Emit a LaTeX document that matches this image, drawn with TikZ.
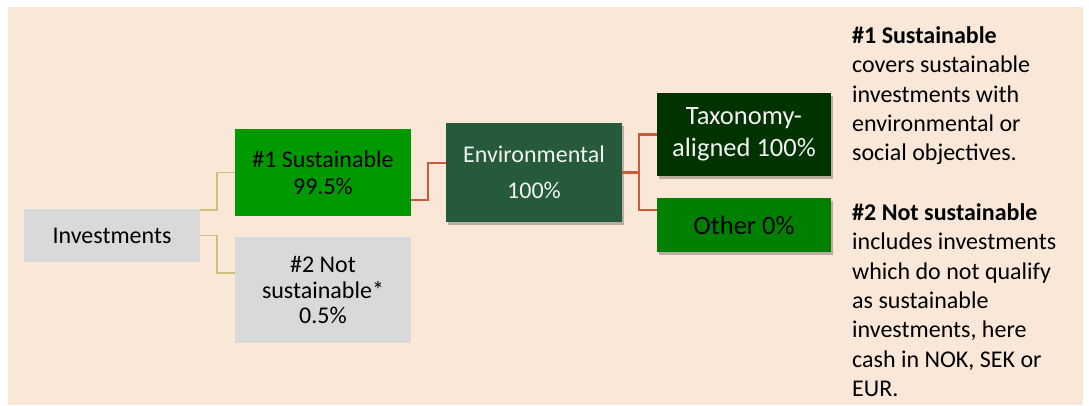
\documentclass[tikz,border=0pt]{standalone}
\usepackage{fontspec}
\setmainfont{Carlito}
\usetikzlibrary{shadows}
\definecolor{peach}{HTML}{F9E8D8}
\definecolor{boxgrey}{HTML}{D9D9D9}
\definecolor{greenA}{HTML}{009900}
\definecolor{envgreen}{HTML}{255A3B}
\definecolor{taxgreen}{HTML}{003300}
\definecolor{othgreen}{HTML}{008000}
\definecolor{tanline}{HTML}{CDBE78}
\definecolor{redline}{HTML}{CB5A3A}
\tikzset{
  box/.style={rectangle, inner sep=0pt, align=center, text=black,
    font=\fontsize{24}{27}\selectfont},
  shad/.style={drop shadow={shadow xshift=2pt, shadow yshift=-3pt, opacity=0.25, fill=black}},
  tanconn/.style={draw=tanline, line width=1.6pt},
  redconn/.style={draw=redline, line width=2.2pt},
  note/.style={inner sep=0pt, align=left, anchor=north west,
    font=\fontsize{24}{29.3}\selectfont}
}
\begin{document}
\begin{tikzpicture}[x=1pt,y=-1pt]
\useasboundingbox (0,0) rectangle (1089,405);
\fill[white] (0,0) rectangle (1089,405);
\fill[peach] (8,7) rectangle (1083,405);

\node[box, fill=boxgrey, minimum width=176pt, minimum height=53pt] (inv) at (112,235.5) {Investments};
\node[box, fill=greenA, minimum width=176pt, minimum height=87pt] (s1) at (323,172.5) {\#1 Sustainable\\99.5\%};
\node[box, fill=boxgrey, minimum width=176pt, minimum height=106pt,
  font=\fontsize{24}{25.5}\selectfont] (s2) at (323,290) {\#2 Not\\sustainable*\\0.5\%};
\node[box, shad, fill=envgreen, text=white!95!black, minimum width=176pt, minimum height=99pt,
  font=\fontsize{24}{36}\selectfont] (env) at (534,172.5) {Environmental\\100\%};
\node[box, shad, fill=taxgreen, text=white!95!black, minimum width=174pt, minimum height=83pt,
  font=\fontsize{26.5}{32}\selectfont] (tax) at (744,134.5) {Taxonomy-\\aligned 100\%};
\node[box, shad, fill=othgreen, minimum width=174pt, minimum height=54pt,
  font=\fontsize{26.5}{30}\selectfont] (oth) at (744,225) {Other 0\%};

\draw[tanconn] ([yshift=-1pt]inv.north east) -- ++(17,0) |- (s1.west);
\draw[tanconn] (inv.east) -- ++(17,0) |- ([yshift=17pt]s2.west);
\draw[redconn] ([yshift=-27.5pt]s1.east) -- ++(17,0) |- ([yshift=9.5pt]env.west);
\draw[redconn] (env.east) -- ++(17,0) coordinate (fork);
\draw[redconn] (fork) |- (tax.west);
\draw[redconn] (fork) |- ([yshift=15pt]oth.west);

\node[note] (n1) at (852,26.5) {\textbf{\#1 Sustainable}\\covers sustainable\\investments with\\environmental or\\social objectives.};
\node[note] (n2) at (852,203.5) {\textbf{\#2 Not sustainable}\\includes investments\\which do not qualify\\as sustainable\\investments, here\\cash in NOK, SEK or\\EUR.};
\end{tikzpicture}
\end{document}
